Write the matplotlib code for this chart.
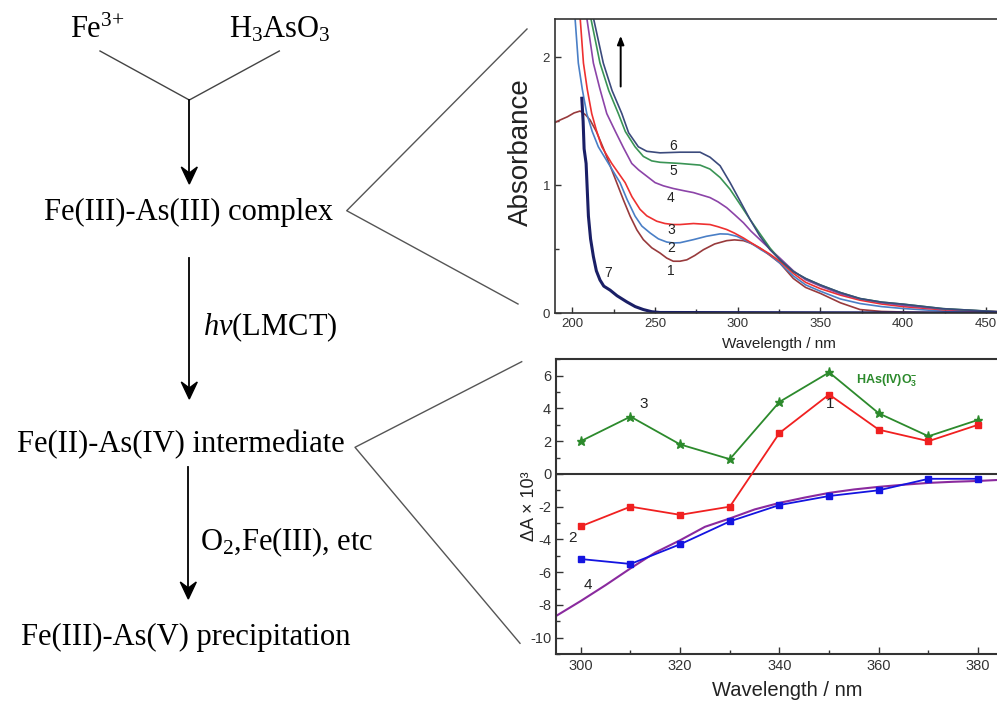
import matplotlib
matplotlib.use("Agg")
import matplotlib.pyplot as plt
from matplotlib.patches import Polygon
from matplotlib.ticker import MultipleLocator

plt.rcParams["font.family"] = ["Liberation Sans", "DejaVu Sans"]
plt.rcParams["axes.unicode_minus"] = False
plt.rcParams["mathtext.fontset"] = "custom"
plt.rcParams["mathtext.rm"] = "Liberation Serif"
plt.rcParams["mathtext.it"] = "Liberation Serif:italic"
plt.rcParams["mathtext.bf"] = "Liberation Serif:bold"
plt.rcParams["mathtext.sf"] = "Liberation Sans:bold"

# ---- UV-vis spectra (top panel) ----
wl1 = [189.5, 192.6, 197, 201, 204.7, 208, 210.7, 214.5, 218.7, 222, 226.8, 231, 234.9, 239, 242.9,
       248, 253, 257, 261, 265, 269.2, 274, 279.2, 286, 293.3, 298, 303.4, 308, 313.4, 319.5, 325.5,
       333.6, 341, 350, 362, 373.9, 387, 400, 424, 457]
ab1 = [1.49, 1.51, 1.535, 1.565, 1.58, 1.55, 1.51, 1.42, 1.29, 1.18, 1.02, 0.88, 0.758, 0.65, 0.574,
       0.51, 0.469, 0.43, 0.405, 0.405, 0.416, 0.45, 0.495, 0.54, 0.566, 0.572, 0.566, 0.545, 0.508,
       0.45, 0.39, 0.27, 0.20, 0.153, 0.08, 0.027, 0.012, 0.008, 0.002, 0.0]

wl2 = [201.6, 203.6, 206, 208.7, 212, 215.7, 221.8, 228.8, 233, 237.9, 242, 247, 252, 257.1, 261,
       265.1, 273.2, 281, 289.3, 294, 299.4, 304, 309.5, 314, 319.5, 325.5, 333.6, 341, 350, 362,
       373.9, 387, 400, 424, 457]
ab2 = [2.31, 1.955, 1.75, 1.56, 1.42, 1.30, 1.17, 1.02, 0.89, 0.758, 0.68, 0.626, 0.58, 0.555, 0.548,
       0.55, 0.574, 0.60, 0.619, 0.617, 0.60, 0.572, 0.534, 0.495, 0.455, 0.39, 0.29, 0.22, 0.17, 0.11,
       0.074, 0.05, 0.035, 0.015, 0.005]

wl3 = [204.7, 206.7, 209, 211.7, 214.5, 217.8, 223.8, 231.9, 236, 240.9, 245, 251, 256, 261, 265.1,
       273.2, 283.2, 288, 293.3, 298, 303.4, 308, 313.4, 319.5, 325.5, 333.6, 341, 350, 362, 373.9,
       387, 400, 424, 457]
ab3 = [2.31, 1.955, 1.75, 1.56, 1.43, 1.30, 1.17, 1.02, 0.91, 0.811, 0.76, 0.718, 0.70, 0.692, 0.692,
       0.70, 0.692, 0.675, 0.653, 0.625, 0.587, 0.55, 0.508, 0.46, 0.403, 0.31, 0.24, 0.19, 0.14, 0.10,
       0.07, 0.05, 0.025, 0.01]

wl4 = [208.7, 212.7, 216.5, 220.8, 226, 231, 235.9, 240, 245, 250, 255, 261, 268, 273.2, 283.2, 288,
       293.3, 298, 303.4, 308, 313.4, 319.5, 325.5, 333.6, 341, 350, 362, 373.9, 387, 400, 424, 457]
ab4 = [2.31, 1.955, 1.76, 1.56, 1.42, 1.29, 1.17, 1.12, 1.07, 1.02, 0.995, 0.974, 0.955, 0.942, 0.903,
       0.87, 0.824, 0.77, 0.706, 0.64, 0.574, 0.50, 0.429, 0.33, 0.26, 0.21, 0.15, 0.11, 0.08, 0.06,
       0.03, 0.01]

wl5 = [211.1, 216.7, 222, 227.8, 232, 237.9, 242.9, 248, 253, 265.1, 277.2, 283.2, 289.3, 295.3,
       301.4, 307.4, 313.4, 319.5, 325.5, 333.6, 341, 350, 362, 373.9, 387, 400, 424, 457]
ab5 = [2.31, 1.955, 1.74, 1.56, 1.42, 1.30, 1.225, 1.19, 1.179, 1.17, 1.157, 1.126, 1.06, 0.968,
       0.85, 0.732, 0.62, 0.508, 0.416, 0.324, 0.27, 0.219, 0.16, 0.113, 0.085, 0.069, 0.034, 0.01]

wl6 = [212.7, 218.7, 224, 229.9, 234, 239.9, 245, 253, 265.1, 277.2, 283.2, 289.3, 295.3, 301.4,
       307.4, 313.4, 319.5, 325.5, 333.6, 341, 350, 362, 373.9, 387, 400, 424, 457]
ab6 = [2.31, 1.955, 1.74, 1.56, 1.41, 1.30, 1.265, 1.253, 1.258, 1.258, 1.219, 1.152, 1.021, 0.876,
       0.732, 0.60, 0.495, 0.416, 0.324, 0.27, 0.219, 0.16, 0.113, 0.085, 0.069, 0.034, 0.01]

wl7 = [205.7, 206.5, 207.1, 208.3, 209.7, 211, 212.7, 214.5, 216.7, 219, 222.8, 227, 232.9, 238,
       242.9, 248, 253, 300, 350, 400, 457]
ab7 = [1.68, 1.50, 1.284, 1.17, 0.758, 0.58, 0.442, 0.33, 0.258, 0.21, 0.179, 0.135, 0.087, 0.05,
       0.027, 0.01, 0.004, 0.003, 0.002, 0.001, 0.0]

spectra = [
    (wl1, ab1, "#983a3c", 1.2), (wl2, ab2, "#4a7fc6", 1.2), (wl3, ab3, "#ee3030", 1.2),
    (wl4, ab4, "#8c44a8", 1.2), (wl5, ab5, "#3a9455", 1.2), (wl6, ab6, "#3b4a7c", 1.2),
    (wl7, ab7, "#1a1f66", 2.2),
]
spec_labels = ["1", "2", "3", "4", "5", "6", "7"]
spec_label_x = [259.5, 259.5, 259.5, 259.5, 261, 261, 221.8]
spec_label_y = [0.33, 0.51, 0.65, 0.90, 1.11, 1.31, 0.31]

# ---- difference spectra (bottom panel) ----
wl_d = [300, 310, 320, 330, 340, 350, 360, 370, 380]
dA_1 = [-3.2, -2.0, -2.5, -2.0, 2.5, 4.85, 2.7, 2.0, 3.0]
dA_3 = [2.0, 3.5, 1.8, 0.9, 4.4, 6.2, 3.7, 2.3, 3.3]
dA_2 = [-5.2, -5.5, -4.3, -2.9, -1.9, -1.35, -1.0, -0.3, -0.3]
wl_fit = [295, 300, 305, 310, 315, 320, 325, 330, 335, 340, 345, 350, 355, 360, 365, 370, 375, 380, 384]
dA_fit = [-8.68, -7.76, -6.79, -5.77, -4.8, -4.05, -3.23, -2.72, -2.17, -1.77, -1.45, -1.16, -0.95,
          -0.79, -0.66, -0.55, -0.48, -0.43, -0.37]

W, H = 997, 706
fig = plt.figure(figsize=(W / 100, H / 100), dpi=100)

# ---- flowchart on a pixel-coordinate overlay ----
ov = fig.add_axes([0, 0, 1, 1])
ov.set_xlim(0, W)
ov.set_ylim(H, 0)
ov.axis("off")

serif = "Liberation Serif"
fs = 22


def down_arrow(x, y0, y1):
    ov.plot([x, x], [y0, y1 - 10], color="black", lw=1.3)
    head = [(x, y1), (x - 8, y1 - 17), (x, y1 - 11), (x + 8, y1 - 17)]
    ov.add_patch(Polygon(head, closed=True, color="black"))


ov.text(97, 38, r"Fe$^{3{+}}$", fontsize=fs, family=serif, ha="center", va="baseline")
ov.text(280, 38, r"H$_\mathrm{3}$AsO$_\mathrm{3}$", fontsize=fs, family=serif, ha="center", va="baseline")
ov.plot([100, 189.3, 279.3], [51, 100, 51], color="#444444", lw=1.0)
down_arrow(189.3, 100, 184)
ov.text(188.5, 212, "Fe(III)-As(III) complex", fontsize=fs, family=serif, ha="center", va="center")
down_arrow(189.3, 258, 399)
ov.text(203, 327, r"$hv$(LMCT)", fontsize=fs, family=serif, ha="left", va="center")
ov.text(181, 445, "Fe(II)-As(IV) intermediate", fontsize=fs, family=serif, ha="center", va="center")
down_arrow(188.3, 467, 599)
ov.text(200, 542, r"O$_\mathrm{2}$,Fe(III), etc", fontsize=fs, family=serif, ha="left", va="center")
ov.text(186, 637, "Fe(III)-As(V) precipitation", fontsize=fs, family=serif, ha="center", va="center")

# zoom lines to the panels
ov.plot([527, 346.7, 518], [29, 210.7, 304], color="#555555", lw=1.0)
ov.plot([521.7, 355, 520], [361.7, 447.3, 643.3], color="#555555", lw=1.0)

# ---- top panel ----
ax1 = fig.add_axes([555 / W, (H - 313) / H, (W - 555) / W, 294 / H])
for wl, ab, col, lw in spectra:
    ax1.plot(wl, ab, color=col, lw=lw)
for lab, lx, ly in zip(spec_labels, spec_label_x, spec_label_y):
    ax1.text(lx, ly, lab, fontsize=10, ha="center", va="center", color="#222222")
ax1.annotate("", xy=(229.2, 2.19), xytext=(229.2, 1.75),
             arrowprops=dict(arrowstyle="-|>,head_length=0.5,head_width=0.2", color="black", lw=1.4))
ax1.set_xlim(189.5, 456.7)
ax1.set_ylim(0, 2.3)
ax1.xaxis.set_major_locator(MultipleLocator(50))
ax1.xaxis.set_minor_locator(MultipleLocator(25))
ax1.yaxis.set_major_locator(MultipleLocator(1))
ax1.yaxis.set_minor_locator(MultipleLocator(0.5))
ax1.tick_params(which="both", direction="in", labelsize=9.5, colors="#333333", width=1.0)
ax1.tick_params(which="major", length=4)
ax1.tick_params(which="minor", length=3)
ax1.spines["right"].set_visible(False)
for s in ["left", "top", "bottom"]:
    ax1.spines[s].set_color("#333333")
    ax1.spines[s].set_linewidth(1.2)
ax1.set_ylabel("Absorbance", fontsize=20, color="#222222")
ax1.yaxis.set_label_coords(-0.047, 0.548)
ax1.set_xlabel("Wavelength / nm", fontsize=11, color="#222222")
ax1.xaxis.set_label_coords(0.507, -0.08)

# ---- bottom panel ----
ax2 = fig.add_axes([556 / W, (H - 654) / H, (W - 556) / W, 294.7 / H])
ax2.axhline(0, color="#333333", lw=1.5)
ax2.plot(wl_fit, dA_fit, color="#8a2a9e", lw=1.5)
ax2.plot(wl_d, dA_3, color="#2c8a2c", lw=1.3, marker="*", ms=6.5)
ax2.plot(wl_d, dA_1, color="#f02020", lw=1.3, marker="s", ms=5)
ax2.plot(wl_d, dA_2, color="#1414e0", lw=1.3, marker="s", ms=5)
ax2.text(312.6, 4.28, "3", fontsize=11, ha="center", va="center", color="#222222")
ax2.text(350.1, 4.28, "1", fontsize=11, ha="center", va="center", color="#222222")
ax2.text(298.3, -3.94, "2", fontsize=11, ha="center", va="center", color="#222222")
ax2.text(301.5, -6.78, "4", fontsize=11, ha="center", va="center", color="#222222")
ax2.text(355.4, 5.66, r"HAs(IV)O$_\mathsf{3}^\mathsf{-}$", fontsize=9, fontweight="bold",
         color="#2c8a2c", ha="left", va="center")
ax2.set_xlim(295, 383.8)
ax2.set_ylim(-11, 7)
ax2.xaxis.set_major_locator(MultipleLocator(20))
ax2.xaxis.set_minor_locator(MultipleLocator(10))
ax2.yaxis.set_major_locator(MultipleLocator(2))
ax2.yaxis.set_minor_locator(MultipleLocator(1))
ax2.tick_params(which="both", direction="in", labelsize=10.5, colors="#333333", width=1.0)
ax2.tick_params(which="major", length=5)
ax2.tick_params(which="minor", length=3)
ax2.spines["right"].set_visible(False)
for s in ["left", "top", "bottom"]:
    ax2.spines[s].set_color("#333333")
    ax2.spines[s].set_linewidth(1.5)
ax2.set_ylabel("ΔA × 10³", fontsize=13, color="#222222")
ax2.yaxis.set_label_coords(-0.04, 0.50)
ax2.set_xlabel("Wavelength / nm", fontsize=14.5, color="#222222")
ax2.xaxis.set_label_coords(0.524, -0.093)

fig.savefig("out.png", dpi=100)
